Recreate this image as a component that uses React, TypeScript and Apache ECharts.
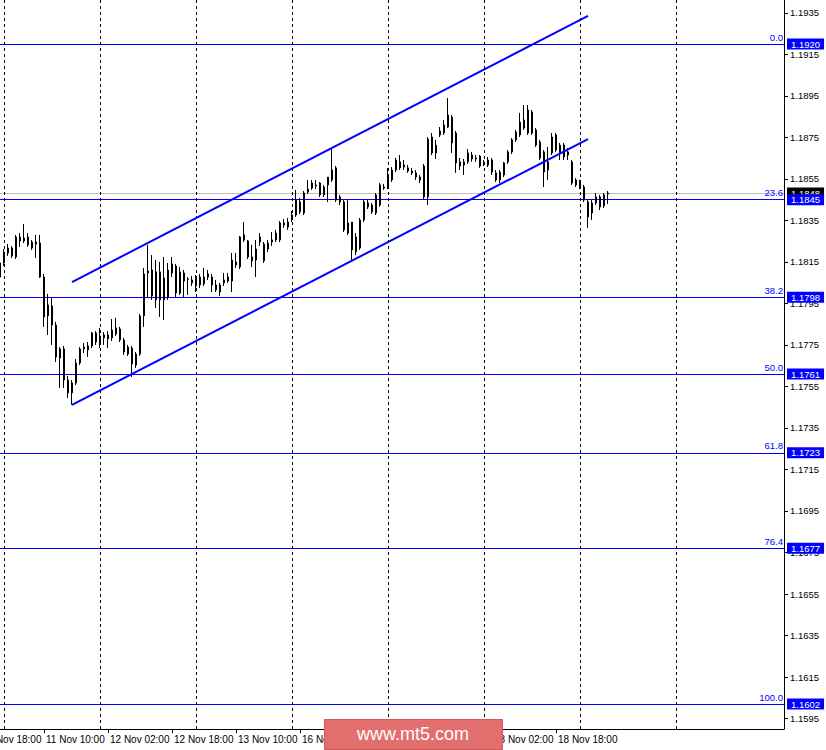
import React, { useEffect, useRef } from "react";
import * as echarts from "echarts";

// Trading sessions (day, first hour) used to build hourly categories
const sessionStarts: [string, number][] = [
  ["10 Nov", 18], ["11 Nov", 0], ["12 Nov", 0], ["13 Nov", 0], ["16 Nov", 0],
  ["17 Nov", 0], ["18 Nov", 0], ["19 Nov", 0], ["20 Nov", 0], ["23 Nov", 0],
];
const CATEGORY_COUNT = 202;
const LEAD_BARS = 5; // 10 Nov 18:00 .. 22:00 have no visible candle

// Time labels hidden under the watermark in the reference
const hiddenTimeLabels = ["16 Nov 18:00", "17 Nov 10:00"];

// EURUSD H1 candles from 10 Nov 23:00: [open, close, low, high]
const candles: number[][] = [
  [1.18077, 1.18145, 1.18049, 1.18169],
  [1.18145, 1.18193, 1.1813, 1.18212],
  [1.18193, 1.18217, 1.18179, 1.18236],
  [1.18217, 1.18179, 1.18169, 1.18227],
  [1.18174, 1.1827, 1.18164, 1.1828],
  [1.1827, 1.18251, 1.18222, 1.18289],
  [1.18251, 1.18265, 1.18241, 1.18333],
  [1.1827, 1.18232, 1.18222, 1.18289],
  [1.18217, 1.18246, 1.18208, 1.18256],
  [1.18246, 1.18236, 1.18169, 1.1828],
  [1.18241, 1.18077, 1.18073, 1.1828],
  [1.18077, 1.17885, 1.17837, 1.18092],
  [1.1789, 1.17943, 1.17798, 1.17996],
  [1.17938, 1.17846, 1.1775, 1.17981],
  [1.17846, 1.17692, 1.17668, 1.17861],
  [1.17687, 1.17731, 1.17543, 1.1774],
  [1.17731, 1.17581, 1.17543, 1.17745],
  [1.17581, 1.17519, 1.17494, 1.176],
  [1.17519, 1.17567, 1.17461, 1.17581],
  [1.17567, 1.17663, 1.17557, 1.17682],
  [1.17663, 1.17731, 1.17653, 1.1774],
  [1.17731, 1.1774, 1.17711, 1.17759],
  [1.17726, 1.17745, 1.17692, 1.17764],
  [1.17745, 1.17808, 1.17735, 1.17812],
  [1.17808, 1.17764, 1.1775, 1.17817],
  [1.17759, 1.17793, 1.17735, 1.17832],
  [1.17784, 1.17798, 1.1775, 1.17812],
  [1.17779, 1.17798, 1.17735, 1.17817],
  [1.17784, 1.17822, 1.17769, 1.17875],
  [1.17803, 1.17832, 1.17793, 1.1788],
  [1.17827, 1.17774, 1.17764, 1.17837],
  [1.17774, 1.17716, 1.17702, 1.17784],
  [1.17706, 1.1774, 1.17697, 1.1775],
  [1.17735, 1.17658, 1.17596, 1.17745],
  [1.17653, 1.17706, 1.17639, 1.17716],
  [1.17706, 1.1789, 1.17697, 1.17899],
  [1.1789, 1.18092, 1.17837, 1.18121],
  [1.18097, 1.18106, 1.17981, 1.18232],
  [1.18111, 1.17986, 1.17967, 1.18183],
  [1.18102, 1.17967, 1.17928, 1.18159],
  [1.17967, 1.18102, 1.17885, 1.1815],
  [1.18073, 1.17967, 1.1787, 1.18174],
  [1.17981, 1.18111, 1.17967, 1.18145],
  [1.18097, 1.1814, 1.18077, 1.18174],
  [1.1813, 1.18, 1.17981, 1.1814],
  [1.18, 1.18102, 1.17991, 1.18126],
  [1.18097, 1.18058, 1.17981, 1.18111],
  [1.18068, 1.18066, 1.17991, 1.18077],
  [1.18063, 1.18049, 1.18034, 1.18082],
  [1.18034, 1.18073, 1.18005, 1.18087],
  [1.18039, 1.18077, 1.18024, 1.18092],
  [1.18077, 1.18044, 1.18034, 1.18121],
  [1.18077, 1.18092, 1.18063, 1.18111],
  [1.18077, 1.18039, 1.18005, 1.18092],
  [1.18039, 1.18015, 1.18005, 1.18063],
  [1.18005, 1.18039, 1.17986, 1.18049],
  [1.18049, 1.18063, 1.18034, 1.18097],
  [1.18058, 1.18077, 1.18049, 1.18097],
  [1.18058, 1.18159, 1.18005, 1.18193],
  [1.1815, 1.18135, 1.18121, 1.18193],
  [1.18126, 1.1827, 1.18116, 1.18275],
  [1.1828, 1.18256, 1.18246, 1.18342],
  [1.18251, 1.18174, 1.18164, 1.18256],
  [1.18174, 1.18155, 1.18126, 1.18232],
  [1.18159, 1.18212, 1.18077, 1.18256],
  [1.1827, 1.18246, 1.18227, 1.18289],
  [1.18155, 1.18236, 1.18145, 1.18246],
  [1.18212, 1.18241, 1.18198, 1.18256],
  [1.18246, 1.18256, 1.18227, 1.18294],
  [1.18256, 1.18289, 1.18246, 1.18304],
  [1.18256, 1.18338, 1.18246, 1.18347],
  [1.18338, 1.18328, 1.18314, 1.18357],
  [1.18318, 1.18342, 1.18304, 1.18362],
  [1.18352, 1.18376, 1.18342, 1.18395],
  [1.18376, 1.18448, 1.18367, 1.18497],
  [1.18439, 1.18391, 1.18381, 1.18458],
  [1.18386, 1.18482, 1.18376, 1.18492],
  [1.18487, 1.18501, 1.18477, 1.18545],
  [1.18506, 1.1853, 1.18497, 1.18545],
  [1.18516, 1.18521, 1.18501, 1.18545],
  [1.1853, 1.18473, 1.18463, 1.18535],
  [1.18511, 1.18473, 1.18463, 1.18521],
  [1.18521, 1.18559, 1.18439, 1.18559],
  [1.18545, 1.18593, 1.18535, 1.18699],
  [1.18603, 1.18448, 1.18439, 1.18612],
  [1.18463, 1.18439, 1.18424, 1.18473],
  [1.18439, 1.18304, 1.18294, 1.18448],
  [1.18338, 1.18289, 1.1828, 1.18448],
  [1.18342, 1.18208, 1.18159, 1.18342],
  [1.18198, 1.1827, 1.18183, 1.18289],
  [1.18217, 1.18352, 1.18208, 1.18362],
  [1.18352, 1.18439, 1.18342, 1.18448],
  [1.18434, 1.18415, 1.18405, 1.18448],
  [1.18391, 1.18424, 1.18381, 1.18434],
  [1.18386, 1.18473, 1.18376, 1.18482],
  [1.18424, 1.18521, 1.18415, 1.1853],
  [1.18506, 1.18511, 1.18497, 1.18526],
  [1.18511, 1.18559, 1.18501, 1.18603],
  [1.18545, 1.18593, 1.18535, 1.18607],
  [1.18593, 1.18641, 1.18583, 1.18651],
  [1.18632, 1.18603, 1.18593, 1.18665],
  [1.18607, 1.18617, 1.18593, 1.18641],
  [1.18603, 1.18588, 1.18579, 1.18617],
  [1.18588, 1.18579, 1.18569, 1.18603],
  [1.18579, 1.18559, 1.18545, 1.18593],
  [1.18559, 1.18545, 1.1853, 1.18569],
  [1.18612, 1.18463, 1.18453, 1.18622],
  [1.18463, 1.18742, 1.18424, 1.18752],
  [1.18752, 1.18675, 1.18665, 1.18771],
  [1.18675, 1.18713, 1.18646, 1.18738],
  [1.18762, 1.18781, 1.18752, 1.188],
  [1.18771, 1.1881, 1.18762, 1.18834],
  [1.188, 1.18858, 1.18795, 1.1894],
  [1.18848, 1.18723, 1.18675, 1.18858],
  [1.18771, 1.18627, 1.18579, 1.18781],
  [1.18632, 1.18612, 1.18593, 1.18651],
  [1.18617, 1.18632, 1.18569, 1.18646],
  [1.18632, 1.18675, 1.18622, 1.18694],
  [1.18646, 1.18665, 1.18632, 1.1868],
  [1.18646, 1.18651, 1.18632, 1.18665],
  [1.1866, 1.18612, 1.18603, 1.18665],
  [1.18632, 1.18622, 1.18612, 1.18641],
  [1.18617, 1.18641, 1.18607, 1.18656],
  [1.18641, 1.18583, 1.18569, 1.18651],
  [1.18579, 1.18545, 1.18535, 1.18593],
  [1.18545, 1.18583, 1.1853, 1.18593],
  [1.18569, 1.18627, 1.18559, 1.18632],
  [1.18632, 1.1868, 1.18622, 1.18689],
  [1.1868, 1.18738, 1.1867, 1.18747],
  [1.18738, 1.18776, 1.18728, 1.18786],
  [1.18762, 1.18824, 1.18752, 1.18868],
  [1.18834, 1.18795, 1.18786, 1.18906],
  [1.18771, 1.18882, 1.18762, 1.18906],
  [1.18872, 1.18771, 1.18762, 1.18882],
  [1.18786, 1.18713, 1.18704, 1.18795],
  [1.18728, 1.18651, 1.18641, 1.18738],
  [1.1868, 1.18583, 1.18511, 1.18689],
  [1.18593, 1.18632, 1.18545, 1.18704],
  [1.18675, 1.18752, 1.18665, 1.18771],
  [1.18762, 1.18689, 1.1868, 1.18771],
  [1.18675, 1.18713, 1.18641, 1.18723],
  [1.18713, 1.18656, 1.18641, 1.18723],
  [1.1868, 1.18665, 1.18641, 1.18699],
  [1.18632, 1.1853, 1.18521, 1.18641],
  [1.18545, 1.18521, 1.18511, 1.18554],
  [1.18535, 1.18511, 1.18501, 1.18545],
  [1.18511, 1.18448, 1.18439, 1.18521],
  [1.18439, 1.18367, 1.18314, 1.18448],
  [1.18386, 1.18434, 1.18352, 1.18448],
  [1.18434, 1.18463, 1.18424, 1.18482],
  [1.18463, 1.18415, 1.184, 1.18473],
  [1.1842, 1.18473, 1.1841, 1.18482],
  [1.18477, 1.18482, 1.18429, 1.18492],
];

// Right price scale tick labels
const yTicks = [
  1.1595, 1.1615, 1.1635, 1.1655, 1.1675, 1.1695, 1.1715, 1.1735, 1.1755,
  1.1775, 1.1795, 1.1815, 1.1835, 1.1855, 1.1875, 1.1895, 1.1915, 1.1935,
];

// Fibonacci retracement levels
const fibPercents = ["0.0", "23.6", "38.2", "50.0", "61.8", "76.4", "100.0"];
const fibPrices = [1.192, 1.1845, 1.1798, 1.1761, 1.1723, 1.1677, 1.1602];

// Trend channel: [bar index from first candle, price]
const channelUpper: [number, number][] = [[18, 1.18053], [147, 1.19335]];
const channelLower: [number, number][] = [[18, 1.17461], [147, 1.18742]];

const watermarkText = "www.mt5.com";

const categories: string[] = [];
for (const [day, start] of sessionStarts) {
  for (let h = start; h < 24; h++) {
    categories.push(`${day} ${String(h).padStart(2, "0")}:00`);
  }
}
categories.length = CATEGORY_COUNT;

const FONT = "'Liberation Sans', Arial, sans-serif";
const NARROW_FONT = "'Liberation Sans Narrow', 'Arial Narrow', 'Liberation Sans', Arial, sans-serif";
const BLUE = "#0000ff";
const NO_LINE = { color: "rgba(0,0,0,0)", width: 0, type: "solid" };
const Y_MIN = 1.1589955;
const Y_MAX = 1.19412;

function boxLabel(text: string, bg: string) {
  return {
    show: true,
    position: "end",
    formatter: text,
    color: "#ffffff",
    backgroundColor: bg,
    fontSize: 9.5,
    fontFamily: FONT,
    padding: [1, 4, 0, 4],
    lineHeight: 10,
    distance: 3,
  };
}

// Hidden price axis whose split lines draw horizontal levels crisply
function levelAxis(values: number[], color: string) {
  return {
    type: "value",
    position: "right",
    min: Y_MIN,
    max: Y_MAX,
    axisLine: { show: false },
    axisTick: { show: false, customValues: values },
    axisLabel: { show: false, customValues: values },
    splitLine: { show: true, lineStyle: { color, width: 1, type: "solid" } },
  };
}

function buildOption() {
  const seriesData: any[] = [];
  for (let i = 0; i < LEAD_BARS; i++) seriesData.push("-");
  candles.forEach((c) => seriesData.push(c));

  const lastClose = candles[candles.length - 1][1];

  // Price-scale labels (lines drawn as split lines) and channel lines
  const markData: any[] = [
    { yAxis: lastClose, lineStyle: { ...NO_LINE }, label: boxLabel(lastClose.toFixed(4), "#000000") },
  ];
  fibPrices.forEach((p, i) => {
    markData.push({
      yAxis: p,
      lineStyle: { ...NO_LINE },
      label: {
        show: true,
        position: "insideEndTop",
        formatter: fibPercents[i],
        color: BLUE,
        fontSize: 9.5,
        fontFamily: FONT,
        distance: [1, 2],
      },
    });
    markData.push({ yAxis: p, lineStyle: { ...NO_LINE }, label: boxLabel(p.toFixed(4), BLUE) });
  });
  [channelUpper, channelLower].forEach((ch) => {
    markData.push([
      { coord: [categories[ch[0][0] + LEAD_BARS], ch[0][1]], lineStyle: { color: BLUE, width: 2, type: "solid" }, label: { show: false } },
      { coord: [categories[ch[1][0] + LEAD_BARS], ch[1][1]], lineStyle: { color: BLUE, width: 2, type: "solid" }, label: { show: false } },
    ]);
  });

  const labelInterval = (index: number) =>
    index % 16 === 0 && index <= 144 && hiddenTimeLabels.indexOf(categories[index]) < 0;
  const tickInterval = (index: number) => index % 16 === 0 && index <= 144;
  const dayInterval = (index: number) => index >= 6 && index <= 174 && (index - 6) % 24 === 0;

  const series: any[] = [
    {
      type: "candlestick",
      data: seriesData,
      yAxisIndex: 0,
      barWidth: 2,
      silent: true,
      z: 2,
      itemStyle: {
        color: "#ffffff",
        color0: "#000000",
        borderColor: "#000000",
        borderColor0: "#000000",
        borderColorDoji: "#000000",
        borderWidth: 1,
      },
    },
    {
      type: "line",
      yAxisIndex: 0,
      data: [
        [categories[CATEGORY_COUNT - 1], lastClose],
      ],
      showSymbol: false,
      symbol: "none",
      silent: true,
      lineStyle: { ...NO_LINE },
      markLine: {
        silent: true,
        symbol: ["none", "none"],
        precision: 5,
        animation: false,
        z: 6,
        emphasis: { disabled: true },
        data: markData,
      },
    },
  ];

  return {
    animation: false,
    backgroundColor: "#ffffff",
    grid: {
      left: -20,
      top: 0,
      width: 804,
      height: 729,
      containLabel: false,
      outerBoundsMode: "none",
    },
    xAxis: {
      type: "category",
      data: categories,
      boundaryGap: false,
      axisLine: { show: true, lineStyle: { color: "#000000", width: 1 } },
      axisTick: { show: true, length: 4, interval: tickInterval, lineStyle: { color: "#000000" } },
      axisLabel: {
        interval: labelInterval,
        align: "left",
        color: "#000000",
        fontSize: 10,
        fontFamily: NARROW_FONT,
        margin: 5,
        padding: [0, 0, 0, 2],
      },
      splitLine: {
        show: true,
        interval: dayInterval,
        lineStyle: { color: "#000000", type: [3, 3], width: 1 },
      },
    },
    yAxis: [
      {
        type: "value",
        position: "right",
        min: Y_MIN,
        max: Y_MAX,
        axisLine: { show: true, lineStyle: { color: "#000000", width: 1 } },
        axisTick: { show: true, length: 4, customValues: yTicks, lineStyle: { color: "#000000" } },
        axisLabel: {
          customValues: yTicks,
          formatter: (v: number) => v.toFixed(4),
          color: "#000000",
          fontSize: 9.5,
          fontFamily: FONT,
          margin: 6,
        },
        splitLine: { show: false },
      },
      levelAxis([lastClose], "#c0c0c0"),
      levelAxis(fibPrices, BLUE),
    ],
    series,
    graphic: [
      {
        type: "rect",
        z: 100,
        shape: { x: 324.5, y: 719.5, width: 178, height: 30 },
        style: { fill: "#e36e6e", stroke: "#cc5c5c", lineWidth: 1 },
      },
      {
        type: "text",
        z: 101,
        x: 413,
        y: 734,
        style: {
          text: watermarkText,
          fill: "#ffffff",
          font: `18px ${FONT}`,
          textAlign: "center",
          textVerticalAlign: "middle",
        },
      },
    ],
  };
}

export default function App() {
  const ref = useRef<HTMLDivElement>(null);
  useEffect(() => {
    if (!ref.current) return;
    const chart = echarts.init(ref.current, null, { renderer: "svg" });
    chart.setOption(buildOption() as any);
    return () => chart.dispose();
  }, []);
  return (
    <div
      ref={ref}
      style={{ position: "fixed", left: 0, top: 0, width: 826, height: 750, background: "#ffffff" }}
    />
  );
}
